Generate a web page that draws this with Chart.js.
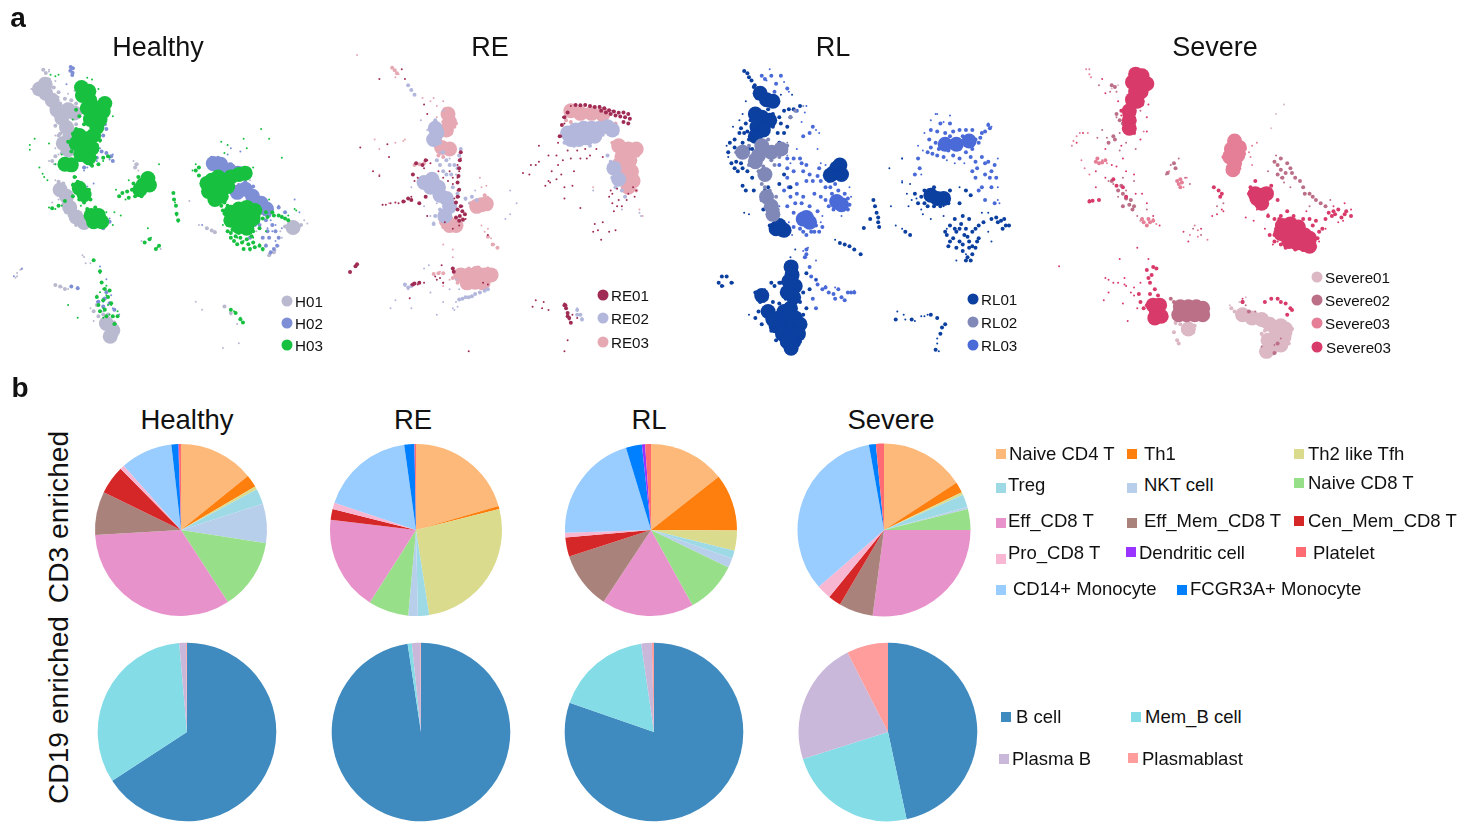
<!DOCTYPE html>
<html>
<head>
<meta charset="utf-8">
<script src="https://cdn.jsdelivr.net/npm/chart.js@4"></script>
<style>
  html, body { margin: 0; padding: 0; background: #fff; }
  body { position: relative; width: 1465px; height: 823px; overflow: hidden; font-family: "Liberation Sans", Arial, sans-serif; color: #111; }
  canvas { position: absolute; }
  .t { position: absolute; white-space: nowrap; transform: translateY(-50%); }
  .c { transform: translate(-50%, -50%); }
  .r { transform: translate(-50%, -50%) rotate(-90deg); }
  .sw { position: absolute; width: 10px; height: 10px; transform: translate(-50%, -50%); }
  .dot { position: absolute; width: 11px; height: 11px; border-radius: 50%; transform: translate(-50%, -50%); }
</style>
</head>
<body>
<script>
// ── PIE DATA (percent) ───────────────────────────────────────────────────────
const tCells = ['Naive CD4 T', 'Th1', 'Th2 like Tfh', 'Treg', 'NKT cell', 'Naive CD8 T', 'Eff_CD8 T', 'Eff_Mem_CD8 T', 'Cen_Mem_CD8 T', 'Pro_CD8 T', 'CD14+ Monocyte', 'FCGR3A+ Monocyte', 'Dendritic cell', 'Platelet'];
const tColors = ['#fdb97a', '#ff7f0e', '#dbdb8d', '#9edae5', '#b8cfec', '#98df8a', '#e892cb', '#a9827b', '#d62728', '#f7b6d2', '#99ccff', '#0080ff', '#9933ff', '#ff6b73'];
const cd3Healthy = [14.2, 2.4, 0.6, 2.9, 7.4, 13.4, 33.3, 8.2, 5.4, 0.8, 9.8, 1.3, 0.1, 0.4];
const cd3RE      = [20.5, 0.6, 26.5, 2.1, 1.8, 7.6, 17.9, 0, 2.0, 1.2, 17.7, 1.9, 0.05, 0.25];
const cd3RL      = [14.4, 10.7, 3.8, 1.5, 1.8, 9.8, 17.3, 10.7, 3.6, 0.9, 20.8, 3.0, 0.6, 1.1];
const cd3Severe  = [15.8, 2.0, 0.5, 2.4, 0.4, 3.9, 27.1, 6.4, 2.4, 2.7, 33.6, 1.3, 0, 1.5];

const bCells = ['B cell', 'Mem_B cell', 'Plasma B', 'Plasmablast'];
const bColors = ['#3f8abf', '#84dce6', '#c9b8da', '#ff9c9c'];
const cd19Healthy = [65.8, 32.8, 1.25, 0.15];
const cd19RE      = [97.6, 0.75, 1.55, 0.1];
const cd19RL      = [80.3, 17.4, 1.9, 0.4];
const cd19Severe  = [46.7, 23.5, 22.4, 7.5];

// ── UMAP DATA ([umap1, umap2] pairs: dense cores, textured mids, loose specks) ─
const h01Core = [[100,255],[118,240],[120,268],[140,290],[155,320],[170,345],[185,375],[195,405],[210,330],[190,320],[175,425],[190,445],[165,570],[185,590],[195,625],[215,655],[240,672],[322,1028],[330,1010],[310,988],[895,688]];
const h01Mid = [[120,205],[112,195],[130,225],[145,250],[160,265],[180,285],[200,290],[215,300],[165,300],[215,365],[205,385],[160,400],[150,370],[165,395],[170,455],[150,465],[140,480],[210,450],[225,470],[160,545],[175,550],[155,580],[175,615],[200,600],[195,650],[185,640],[215,680],[270,950],[285,965],[300,960],[295,985],[280,930],[315,960],[335,985],[150,868],[165,872],[180,880],[400,500],[405,490],[870,685],[880,695],[910,695],[920,680],[835,765],[820,775],[625,690],[640,697],[650,703],[680,935],[700,955]];
const h01Speck = [[130,200],[150,230],[210,260],[190,270],[240,340],[170,420],[150,440],[160,460],[200,390],[210,440],[150,540],[165,560],[140,610],[180,640],[400,490],[410,510],[395,480],[570,605],[600,680],[640,695],[650,700],[30,840],[40,820],[150,870],[170,875],[190,880],[240,780],[260,800],[280,900],[300,950],[270,980],[260,940],[680,935],[700,960],[720,990],[880,680],[930,665],[860,650],[840,760],[820,770],[860,720],[420,730],[480,755],[215,300],[160,280],[185,300],[140,250],[205,350],[150,400],[130,480],[145,490],[200,600],[160,600],[230,640],[190,575],[760,540],[780,700],[810,740],[590,920],[610,945],[675,1065],[725,1050],[30,830],[25,845],[45,815],[235,775],[245,800],[130,195],[75,255],[85,270],[940,675],[855,700],[850,745]];
const h02Core = [[645,488],[668,490],[695,508],[722,518],[720,578],[745,568],[768,590],[795,612],[812,630]];
const h02Mid = [[198,186],[205,190],[197,198],[204,204],[203,211],[310,380],[305,365],[300,400],[310,455],[325,465],[330,480],[295,450],[280,470],[260,490],[240,500],[190,505],[175,500],[800,635],[820,650],[830,680],[815,700],[840,700],[790,680],[800,720],[810,745],[825,765],[770,560],[745,545],[725,555],[710,585],[870,640],[850,625],[300,690],[320,670],[305,910],[320,925],[335,945],[300,935],[285,920],[310,890],[200,872],[220,878],[640,470],[660,470],[680,480],[700,490],[770,620],[785,650],[810,665],[775,680],[760,720],[820,720],[850,720],[845,745],[835,755]];
const h02Speck = [[185,240],[310,380],[330,460],[290,440],[250,500],[180,505],[300,690],[320,660],[200,870],[220,875],[310,850],[330,940],[300,910],[280,920],[610,680],[690,460],[700,440],[730,450],[850,620],[900,600],[915,640],[800,720],[830,700],[760,700],[780,610],[860,690],[240,510],[270,550],[250,560],[300,470],[280,480],[320,475],[300,920],[325,900],[305,940],[815,690],[840,680],[825,665],[810,650],[790,690],[840,730],[825,770],[150,490],[190,495],[295,380],[305,360],[20,840],[45,818],[350,960],[290,810]];
const h03Core = [[232,250],[255,262],[235,275],[258,290],[275,315],[250,315],[305,300],[300,325],[290,350],[280,375],[270,400],[260,350],[225,400],[250,410],[215,425],[240,435],[265,440],[230,460],[255,470],[180,490],[200,492],[225,565],[240,585],[285,650],[270,670],[295,670],[262,650],[440,535],[445,555],[425,555],[415,570],[625,550],[640,540],[660,530],[680,540],[700,530],[725,522],[745,518],[630,575],[650,575],[670,565],[690,560],[650,600],[670,590],[700,640],[725,630],[750,625],[775,635],[720,660],[745,655],[770,660],[700,665],[725,685],[750,690]];
const h03Mid = [[215,380],[240,365],[225,340],[215,320],[205,395],[190,420],[200,450],[280,430],[290,415],[275,470],[285,490],[265,495],[300,470],[315,465],[210,530],[220,545],[205,555],[235,555],[255,570],[260,600],[240,610],[225,600],[205,590],[180,605],[160,620],[140,628],[250,630],[275,625],[390,570],[375,575],[360,580],[350,590],[395,550],[410,530],[420,590],[400,590],[380,595],[520,580],[522,600],[528,620],[530,645],[535,665],[430,735],[445,725],[465,755],[475,745],[600,500],[590,510],[600,525],[680,610],[690,620],[670,620],[680,645],[690,680],[705,695],[715,715],[730,720],[750,725],[770,700],[790,690],[800,660],[810,640],[830,640],[850,650],[870,660],[880,665],[690,700],[700,720],[720,740],[740,755],[760,755],[790,745],[800,755],[770,735],[270,790],[290,825],[295,860],[305,880],[315,905],[325,925],[345,965],[335,990],[310,965],[305,945],[290,950],[700,945],[715,955],[730,975],[738,985],[700,705],[725,705],[745,705],[765,715],[735,735],[755,740],[775,750],[710,730],[690,665],[675,635],[785,670],[770,680],[815,655],[835,650],[860,655],[285,930],[300,915],[320,885],[330,965],[280,905]];
const h03Speck = [[70,430],[85,410],[130,425],[110,520],[115,530],[150,215],[265,225],[285,255],[250,220],[330,340],[300,480],[320,470],[215,530],[205,550],[130,625],[150,630],[170,620],[340,570],[350,590],[370,600],[380,540],[475,490],[520,580],[525,610],[530,650],[535,670],[430,735],[450,720],[470,750],[590,490],[580,510],[600,525],[690,430],[750,440],[740,410],[795,380],[770,500],[820,600],[870,660],[880,650],[900,630],[700,720],[720,740],[760,760],[790,740],[800,760],[270,790],[290,830],[300,880],[310,900],[320,960],[340,990],[345,950],[300,970],[710,950],[730,970],[735,985],[280,640],[230,620],[150,490],[190,480],[200,440],[225,480],[250,490],[275,470],[290,420],[205,350],[190,420],[170,460],[720,720],[740,730],[690,700],[675,680],[770,720],[810,700],[830,640],[850,650],[315,930],[300,940],[325,930],[290,890],[310,870],[160,210],[135,210],[70,445],[100,500],[125,540],[310,640],[335,640],[355,650],[330,680],[440,690],[670,420],[680,455],[820,410],[905,635],[860,470],[220,970],[190,930]];

const re01Mid = [[715,212],[730,213],[745,212],[760,215],[775,218],[790,218],[805,222],[820,228],[835,232],[850,236],[865,235],[880,240],[885,255],[870,250],[855,248],[840,245],[825,240],[810,235],[795,230],[880,270],[865,265],[355,360],[352,385],[350,410],[348,435],[345,455],[350,478],[345,500],[340,518],[355,530],[345,540],[360,545],[352,560],[368,555],[362,572],[350,575],[340,565],[245,385],[235,400],[215,395],[205,430],[190,505],[175,515],[200,510],[225,520],[245,500],[225,770],[205,775],[210,772],[330,725],[333,735],[680,840],[685,850],[690,865],[695,880],[700,895],[690,875],[683,840],[25,718],[8,736],[30,712],[680,250],[672,275],[665,310],[690,235]];
const re01Speck = [[180,130],[170,100],[100,130],[240,210],[250,240],[40,345],[130,375],[125,335],[80,420],[100,435],[250,385],[260,395],[220,440],[210,450],[200,500],[180,515],[110,525],[160,520],[320,420],[330,460],[345,480],[350,590],[330,600],[30,715],[8,735],[25,720],[220,775],[200,775],[240,770],[195,818],[330,725],[300,770],[280,760],[440,620],[380,985],[550,425],[575,400],[570,430],[600,340],[630,370],[630,450],[620,465],[660,400],[670,430],[680,470],[700,380],[710,420],[730,380],[760,370],[680,505],[730,535],[770,610],[800,580],[840,605],[795,635],[820,500],[830,520],[850,510],[880,490],[905,480],[900,500],[860,530],[680,270],[670,310],[660,330],[590,825],[615,830],[580,845],[610,850],[630,855],[680,840],[690,870],[700,895],[720,880],[690,950],[680,985],[345,400],[350,420],[345,440],[350,500],[340,520],[355,380],[345,540],[360,530],[370,570],[680,835],[685,850],[695,885],[705,870],[700,215],[715,212],[745,210],[790,215],[830,230],[880,270],[675,250],[690,235],[240,410],[215,395],[245,500],[250,560],[655,370],[675,385],[690,355],[720,355],[745,350],[780,350],[640,420],[655,445],[705,465],[825,480],[845,475],[875,510],[895,470],[835,545],[845,530],[830,490],[785,605],[775,585],[820,610],[590,400],[600,390],[635,455],[750,380],[800,375],[120,525],[135,520],[150,518],[305,580],[330,440],[315,450],[300,440],[285,420],[335,505],[300,770],[290,755],[425,770],[440,775],[295,715],[275,750]];
const re02Core = [[690,300],[715,290],[740,285],[765,285],[790,285],[815,280],[700,320],[725,320],[750,315],[775,310],[830,290],[280,300],[270,320],[275,285],[240,455],[265,445],[260,470],[285,470],[290,495],[310,505],[320,530],[305,560],[835,410],[850,445]];
const re02Mid = [[370,815],[380,815],[390,812],[400,805],[415,800],[430,795],[440,790],[360,820],[350,822],[300,360],[310,385],[320,400],[335,400],[345,410],[325,430],[310,430],[300,420],[290,400],[280,385],[275,260],[265,290],[260,310],[290,330],[350,370],[355,350],[330,470],[345,490],[370,505],[390,500],[405,510],[290,540],[290,570],[275,560],[270,585],[825,390],[815,370],[830,440],[840,470],[860,480],[870,500],[190,150],[200,165],[210,180],[180,775],[190,785],[200,780],[720,855],[730,870],[735,885],[720,870],[845,300],[800,305],[760,340],[710,340],[680,330]];
const re02Speck = [[190,150],[210,180],[230,260],[300,230],[250,290],[350,370],[200,510],[180,780],[190,790],[330,850],[340,830],[300,830],[280,870],[510,480],[510,555],[530,520],[495,570],[380,520],[400,480],[390,500],[770,480],[720,870],[735,880],[860,540],[915,550],[920,560],[720,850],[200,470],[240,530],[270,580],[290,360],[320,380],[300,420],[340,430],[350,480],[260,560],[280,520],[340,760],[350,790],[320,790],[350,500],[370,510],[335,855],[345,845],[150,825],[135,850],[200,850],[260,800],[240,725],[255,715]];
const re03Core = [[315,240],[320,265],[310,290],[295,345],[320,350],[420,525],[435,522],[405,530],[320,590],[340,590],[310,575],[355,745],[380,745],[405,740],[430,745],[450,745],[375,770],[400,768],[425,770],[700,230],[730,238],[765,238],[800,242],[850,340],[880,350],[905,350],[860,375],[885,385],[865,410],[890,420],[870,440],[895,450],[880,470],[850,400]];
const re03Mid = [[140,95],[148,103],[155,112],[210,400],[225,398],[240,395],[285,370],[300,375],[275,340],[290,320],[330,240],[335,280],[340,270],[325,300],[300,265],[305,225],[340,590],[300,595],[360,570],[300,740],[285,740],[270,742],[330,755],[345,770],[380,725],[410,722],[440,725],[685,260],[700,265],[820,265],[840,270],[830,330],[915,340],[910,370],[905,430],[905,480],[855,455],[385,520],[395,540],[445,510],[430,495],[470,660],[455,650],[440,625]];
const re03Speck = [[270,190],[300,200],[280,215],[150,330],[180,320],[100,350],[440,600],[430,610],[470,660],[460,650],[420,470],[440,500],[300,650],[330,690],[270,740],[290,735],[430,780],[30,55],[150,125],[160,115],[110,525],[130,520],[450,630],[420,590],[280,250],[260,200],[235,190],[300,780],[320,760],[100,430],[85,320],[175,325],[435,465],[415,440],[770,470],[915,540],[925,560],[330,665]];

const rl01Core = [[165,175],[185,195],[205,200],[150,240],[170,250],[195,260],[155,280],[175,290],[150,310],[215,600],[240,605],[225,590],[405,410],[395,425],[415,400],[420,430],[385,432],[262,720],[265,745],[255,765],[275,780],[250,800],[270,815],[240,860],[260,850],[225,880],[250,880],[275,880],[215,905],[240,905],[265,905],[290,900],[235,930],[260,930],[285,930],[250,955],[270,955],[262,975],[720,505],[740,505],[700,495],[190,860],[170,810],[205,885]];
const rl01Mid = [[115,105],[125,112],[130,125],[138,135],[148,150],[155,160],[100,300],[85,320],[110,330],[130,320],[120,370],[95,420],[125,420],[140,440],[190,470],[175,540],[200,570],[240,230],[230,270],[260,250],[220,300],[215,210],[190,225],[155,190],[145,155],[240,430],[225,460],[260,470],[520,510],[525,530],[530,550],[535,565],[535,580],[538,595],[510,570],[430,650],[445,655],[460,665],[480,680],[415,645],[620,610],[635,620],[490,598],[45,750],[35,770],[45,780],[60,750],[75,770],[150,800],[165,815],[185,820],[205,830],[165,830],[210,780],[225,770],[300,800],[320,790],[310,740],[150,880],[170,900],[290,830],[300,870],[310,850],[300,930],[200,920],[215,950],[290,955],[650,490],[670,500],[690,530],[710,470],[760,480],[790,520],[760,590],[790,600],[820,570],[850,590],[890,570],[910,580],[920,575],[935,590],[945,590],[925,600],[760,640],[790,640],[820,640],[850,630],[830,680],[810,700],[840,660],[780,660],[750,620],[810,480],[825,495],[700,870],[720,880],[735,910],[730,930],[745,900],[715,980],[590,885],[640,885],[70,330],[65,360],[75,395],[85,410],[110,465],[120,480],[145,480],[170,510],[180,480],[120,270],[135,260],[115,300],[205,280],[240,300],[250,280],[105,285],[200,600],[230,620],[195,590],[250,600],[200,770],[235,800],[225,835],[200,855],[180,870],[160,860],[230,770],[245,820],[275,820],[680,480],[660,520],[710,530],[730,530],[755,520],[680,520],[800,560],[775,570],[780,610],[805,620],[830,610],[770,630],[800,670],[820,660],[775,600],[795,585],[810,600],[840,600],[865,580],[905,565],[930,570],[745,610],[800,650],[815,625],[755,655],[830,655],[845,640],[825,700],[815,690],[100,350],[85,345],[90,390],[105,395],[110,410],[140,350],[130,350],[225,330],[145,290],[125,295],[255,225],[270,225],[290,215],[205,240],[225,250]];
const rl01Speck = [[60,340],[65,375],[100,260],[120,200],[230,180],[265,180],[635,460],[610,455],[640,510],[630,530],[670,540],[700,570],[740,530],[790,470],[860,550],[880,610],[890,640],[780,700],[810,680],[570,410],[575,530],[590,590],[610,380],[400,635],[610,600],[615,870],[650,890],[690,870],[680,875],[720,945],[130,870],[180,790],[340,760],[260,690],[275,665],[50,780],[80,770],[655,505],[625,490],[675,555],[740,560],[750,600],[880,550],[720,960],[725,985],[595,860],[620,885],[670,875],[200,240],[80,280],[110,240],[95,370],[130,555],[115,550]];
const rl02Core = [[110,360],[160,370],[200,360],[230,350],[170,340],[150,390],[180,430],[185,500],[200,530],[205,555]];
const rl02Mid = [[90,360],[130,340],[135,375],[250,340],[245,360],[190,320],[130,400],[210,400],[160,420],[170,460],[215,500],[220,540],[260,250],[275,230],[170,510],[140,370],[175,405],[200,385],[225,375],[105,375],[195,480],[180,470],[215,565]];
const rl02Speck = [[90,360],[130,340],[250,330],[250,370],[190,320],[130,400],[210,400],[160,420],[170,460],[215,500],[220,540],[260,250],[300,215],[170,510],[140,370]];
const rl03Core = [[310,565],[320,580],[300,570],[405,515],[420,525],[745,335],[780,335],[820,325]];
const rl03Mid = [[170,120],[200,120],[210,170],[250,160],[280,230],[300,310],[320,300],[330,280],[240,350],[290,380],[270,420],[310,400],[350,410],[330,450],[370,470],[390,490],[430,490],[440,540],[380,530],[280,490],[250,530],[270,550],[290,600],[340,590],[350,610],[310,620],[700,290],[730,270],[760,270],[790,290],[830,290],[860,300],[880,275],[690,360],[720,370],[770,370],[810,360],[850,330],[840,390],[880,390],[900,400],[830,420],[850,480],[890,470],[870,510],[900,520],[660,380],[650,430],[310,680],[320,720],[340,760],[360,790],[380,800],[400,820],[450,800],[330,820],[340,850],[300,420],[280,460],[310,450],[250,440],[260,500],[295,520],[320,530],[345,545],[285,570],[335,610],[240,480],[380,450],[400,460],[430,510],[395,540],[370,510],[695,320],[715,330],[725,350],[755,355],[790,350],[840,320],[855,315],[870,295],[885,285],[760,310],[800,310],[830,350],[815,340],[700,345],[860,375],[870,395],[890,420],[870,430],[840,440],[860,470],[885,440],[845,410],[905,440],[305,690],[310,665],[325,750],[345,775],[370,785],[395,805],[420,815],[440,800],[430,825],[410,790],[460,800],[230,120],[215,145],[180,130],[270,380],[295,395],[320,430],[345,435],[275,520],[300,500],[335,490],[355,500],[255,470],[270,595],[300,610],[325,610],[360,595],[355,450],[385,470],[410,480],[440,505],[445,525],[390,510],[720,295],[745,300],[770,295],[810,290],[705,365],[740,375],[790,380],[825,375],[665,410],[250,380],[225,400],[250,410]];
const rl03Speck = [[195,100],[185,135],[240,140],[255,170],[310,215],[340,290],[350,300],[370,400],[445,470],[450,500],[420,560],[355,580],[265,620],[720,240],[760,245],[740,265],[660,340],[610,380],[670,430],[910,380],[915,520],[880,270],[890,280],[610,450],[300,670],[315,660],[310,690],[370,780],[460,795],[400,785],[340,700],[295,265],[305,235],[345,350],[355,395],[280,350],[260,395],[225,530],[255,580],[360,560],[680,300],[675,355],[700,260],[715,240],[775,395],[750,385],[805,395],[910,470],[910,510]];

const s01Core = [[685,950],[710,940],[715,915],[670,975],[655,985],[690,925],[660,950],[700,965],[580,870],[610,880],[640,885],[665,900],[700,905],[410,915]];
const s01Mid = [[545,850],[555,860],[565,865],[595,880],[575,885],[625,895],[645,905],[670,925],[640,930],[650,920],[375,950],[380,960],[365,925],[385,900],[395,910],[425,925],[430,905],[370,895],[730,930],[735,915],[725,960]];
const s01Speck = [[375,950],[380,960],[365,925],[420,925],[190,150],[170,160],[685,240],[670,285],[710,210],[570,830],[590,815],[640,935],[640,975],[370,900],[430,905],[540,840]];
const s02Core = [[385,845],[410,845],[435,845],[455,850],[380,870],[405,870],[430,870],[455,870]];
const s02Mid = [[180,155],[170,150],[210,240],[205,270],[180,320],[170,450],[205,490],[225,525],[235,540],[205,530],[370,410],[345,425],[680,390],[690,400],[700,415],[715,425],[730,410],[745,440],[690,430],[705,440],[770,470],[790,490],[810,510],[840,530],[580,830],[600,860],[690,960],[680,990],[365,830],[355,820],[200,465],[215,505],[190,480],[230,510],[240,530],[185,240],[195,260],[175,310],[160,330],[365,395],[700,380],[720,395],[735,425],[760,450],[775,490],[800,500],[825,520]];
const s02Speck = [[130,150],[125,315],[155,315],[245,350],[260,230],[185,250],[195,300],[140,290],[280,540],[250,560],[205,440],[240,450],[380,380],[355,400],[400,440],[415,460],[730,470],[700,440],[660,420],[790,530],[855,510],[425,600],[450,620],[500,530],[520,520],[590,840],[620,860],[340,430],[160,450],[175,460],[190,500],[215,480],[165,170],[185,170],[215,330],[195,355],[685,370],[710,455],[640,970],[680,965],[700,945]];
const s03Core = [[555,325],[570,345],[545,350],[565,370],[540,375],[555,395],[550,415]];
const s03Mid = [[555,310],[585,340],[585,365],[525,365],[520,375],[535,405],[570,410],[120,390],[130,395],[140,392],[150,385],[125,380],[270,580],[280,590],[290,580],[285,570],[265,570],[300,575],[380,460],[385,470],[375,450],[390,455],[385,445]];
const s03Speck = [[100,100],[105,125],[95,300],[60,310],[45,340],[75,385],[100,430],[110,510],[140,385],[155,395],[300,570],[260,575],[310,585],[350,420],[395,470],[405,440],[600,360],[610,340],[610,400],[440,625],[470,635],[430,590],[415,620],[625,330],[270,295],[90,100],[100,115],[70,300],[50,325],[85,410],[590,350],[605,375],[440,605]];
const s04Core = [[245,115],[265,120],[280,145],[255,145],[235,140],[245,170],[262,170],[235,195],[250,200],[225,230],[225,260],[225,285],[640,495],[625,505],[655,490],[640,520],[620,490],[705,590],[730,585],[755,595],[700,615],[725,615],[750,620],[775,620],[790,630],[725,640],[750,645],[775,650],[790,655],[310,860],[320,840],[300,840],[325,875],[305,880]];
const s04Mid = [[210,245],[200,230],[240,240],[265,210],[175,445],[185,465],[205,470],[215,500],[130,510],[100,515],[110,512],[295,745],[290,770],[305,790],[280,730],[315,810],[300,720],[285,755],[310,725],[280,840],[260,830],[270,850],[255,805],[290,805],[660,560],[680,570],[700,560],[720,545],[680,620],[800,590],[830,600],[850,550],[880,540],[900,555],[920,560],[605,470],[620,450],[670,465],[580,830],[650,830],[670,820],[690,820],[700,830],[715,835],[730,850],[720,870],[735,855],[505,480],[510,500],[490,470],[515,490],[680,640],[665,620],[820,610],[805,660],[695,570],[740,560],[770,570],[790,570],[860,560],[840,570],[600,490],[690,510],[210,275],[240,300],[700,650],[715,660],[745,665],[770,665],[805,640],[815,630],[690,590],[685,600],[810,575],[870,555],[890,565],[905,545],[865,545]];
const s04Speck = [[140,130],[150,175],[190,200],[285,210],[280,250],[280,295],[260,320],[200,340],[150,350],[80,300],[60,330],[205,380],[215,420],[240,430],[120,470],[150,440],[280,520],[300,560],[320,590],[395,610],[410,640],[500,555],[515,540],[485,560],[590,565],[615,575],[650,600],[675,650],[690,640],[770,670],[820,640],[840,600],[900,520],[920,540],[150,755],[175,770],[210,755],[215,780],[145,825],[160,800],[205,835],[240,810],[220,890],[285,695],[260,770],[250,660],[5,718],[195,695],[580,820],[660,555],[625,540],[780,545],[800,640],[865,530],[880,580],[895,575],[160,760],[190,770],[210,775],[230,800],[250,850],[240,785],[200,245],[170,400],[185,405],[120,420],[100,510],[245,490],[265,490],[450,600],[520,545]];

// ── PAGE LAYOUT ──────────────────────────────────────────────────────────────
const panelLetters = [['a', 18, 18], ['b', 20, 388]];
const umapTitles = [['Healthy', 158, 47], ['RE', 490, 47], ['RL', 833, 47], ['Severe', 1215, 47]];
const pieTitles = [['Healthy', 187, 420], ['RE', 413, 420], ['RL', 649, 420], ['Severe', 891, 420]];
const rowTitles = [['CD3 enriched', 58, 517], ['CD19 enriched', 58, 710]];

const sampleLegend = [
  ['H01', '#b9b9cf', 287, 301, 295], ['H02', '#7f8fd6', 287, 323, 295], ['H03', '#18c040', 287, 345, 295],
  ['RE01', '#a02c55', 603, 295, 611], ['RE02', '#b3b7dc', 603, 318, 611], ['RE03', '#e6a9b4', 603, 342, 611],
  ['RL01', '#0b3fa0', 973, 299, 981], ['RL02', '#8088b8', 973, 322, 981], ['RL03', '#4a6ad8', 973, 345, 981],
  ['Severe01', '#dcb8c4', 1317, 277, 1325], ['Severe02', '#bc7088', 1317, 300, 1325], ['Severe03', '#e57f97', 1317, 323, 1325], ['Severe03', '#d83a6a', 1317, 347, 1326],
];
// label, colour, swatch x, swatch y, text x, text y
const cellLegend = [
  ['Naive CD4 T', '#fdb97a', 1001, 454, 1009, 454], ['Th1', '#ff7f0e', 1132, 454, 1144, 454], ['Th2 like Tfh', '#dbdb8d', 1299, 454, 1308, 454],
  ['Treg', '#9edae5', 1001, 488, 1008, 485], ['NKT cell', '#b8cfec', 1132, 488, 1144, 485], ['Naive CD8 T', '#98df8a', 1299, 483, 1308, 483],
  ['Eff_CD8 T', '#e892cb', 1001, 523, 1008, 521], ['Eff_Mem_CD8 T', '#a9827b', 1132, 523, 1144, 521], ['Cen_Mem_CD8 T', '#d62728', 1299, 521, 1308, 521],
  ['Pro_CD8 T', '#f7b6d2', 1001, 559, 1008, 553], ['Dendritic cell', '#9933ff', 1131, 552, 1139, 553], ['Platelet', '#ff6b73', 1301, 552, 1313, 553],
  ['CD14+ Monocyte', '#99ccff', 1001, 590, 1013, 589], ['FCGR3A+ Monocyte', '#0080ff', 1182, 590, 1190, 589],
  ['B cell', '#3f8abf', 1006, 717, 1016, 717], ['Mem_B cell', '#84dce6', 1136, 717, 1145, 717],
  ['Plasma B', '#c9b8da', 1004, 759, 1012, 759], ['Plasmablast', '#ff9c9c', 1133, 758, 1142, 759],
];

// ── HELPERS ──────────────────────────────────────────────────────────────────
function addText(txt, x, y, size, cls, bold) {
  const el = document.createElement('div');
  el.className = cls;
  el.textContent = txt;
  el.style.left = x + 'px';
  el.style.top = y + 'px';
  el.style.fontSize = size + 'px';
  if (bold) el.style.fontWeight = 'bold';
  document.body.appendChild(el);
}
function addMark(cls, color, x, y) {
  const el = document.createElement('div');
  el.className = cls;
  el.style.background = color;
  el.style.left = x + 'px';
  el.style.top = y + 'px';
  document.body.appendChild(el);
}
function makeCanvas(left, top, w, h) {
  const cv = document.createElement('canvas');
  cv.width = w; cv.height = h;
  cv.style.left = left + 'px';
  cv.style.top = top + 'px';
  document.body.appendChild(cv);
  return cv;
}

const RAD_CORE = 7.5, RAD_MID = 2, RAD_SPECK = 1;
const layer = (pts, color, radius) => ({
  data: pts.map(p => ({ x: p[0], y: p[1] })),
  backgroundColor: color, borderWidth: 0, pointRadius: radius, pointHoverRadius: radius,
});
const sample = (core, mid, speck, color) => [layer(speck, color, RAD_SPECK), layer(mid, color, RAD_MID), layer(core, color, RAD_CORE)];

function drawUmap(left, top, w, h, datasets) {
  new Chart(makeCanvas(left, top, w, h), {
    type: 'scatter',
    data: { datasets },
    options: {
      responsive: false, animation: false, devicePixelRatio: 1,
      layout: { padding: 0 },
      plugins: { legend: { display: false }, tooltip: { enabled: false } },
      scales: {
        x: { display: false, min: 0, max: w * 3 },
        y: { display: false, min: 0, max: h * 3, reverse: true },
      },
    },
  });
}

function drawPie(cx, cy, r, labels, colors, values) {
  const box = Math.ceil(r) * 2 + 4;
  new Chart(makeCanvas(cx - box / 2, cy - box / 2, box, box), {
    type: 'pie',
    data: { labels, datasets: [{ data: values, backgroundColor: colors, borderWidth: 0, radius: r }] },
    options: {
      responsive: false, animation: false, devicePixelRatio: 1,
      layout: { padding: 0 },
      plugins: { legend: { display: false }, tooltip: { enabled: false } },
    },
  });
}

// ── RENDER ───────────────────────────────────────────────────────────────────
// first dataset in the list ends up on top
drawUmap(0, 0, 350, 370, [
  ...sample(h03Core, h03Mid, h03Speck, '#18c040'),
  ...sample(h02Core, h02Mid, h02Speck, '#7f8fd6'),
  ...sample(h01Core, h01Mid, h01Speck, '#b9b9cf'),
]);
drawUmap(340, 30, 350, 340, [
  ...sample([], re01Mid, re01Speck, '#a02c55'),
  ...sample(re02Core, re02Mid, re02Speck, '#b3b7dc'),
  ...sample(re03Core, re03Mid, re03Speck, '#e6a9b4'),
]);
drawUmap(700, 30, 350, 340, [
  ...sample(rl02Core, rl02Mid, rl02Speck, '#8088b8'),
  ...sample(rl01Core, rl01Mid, rl01Speck, '#0b3fa0'),
  ...sample(rl03Core, rl03Mid, rl03Speck, '#4a6ad8'),
]);
drawUmap(1050, 30, 350, 340, [
  ...sample(s04Core, s04Mid, s04Speck, '#d83a6a'),
  ...sample(s03Core, s03Mid, s03Speck, '#e57f97'),
  ...sample(s02Core, s02Mid, s02Speck, '#bc7088'),
  ...sample(s01Core, s01Mid, s01Speck, '#dcb8c4'),
]);

drawPie(180.7, 530, 86, tCells, tColors, cd3Healthy);
drawPie(415.7, 530, 86, tCells, tColors, cd3RE);
drawPie(650.7, 530, 86, tCells, tColors, cd3RL);
drawPie(884, 530, 86.5, tCells, tColors, cd3Severe);
drawPie(187, 731.7, 89.3, bCells, bColors, cd19Healthy);
drawPie(421.4, 731.7, 89.3, bCells, bColors, cd19RE);
drawPie(654.2, 731.7, 89.3, bCells, bColors, cd19RL);
drawPie(888.3, 731.7, 89.3, bCells, bColors, cd19Severe);

panelLetters.forEach(([s, x, y]) => addText(s, x, y, 28, 't c', true));
umapTitles.forEach(([s, x, y]) => addText(s, x, y, 27, 't c'));
pieTitles.forEach(([s, x, y]) => addText(s, x, y, 27.5, 't c'));
rowTitles.forEach(([s, x, y]) => addText(s, x, y, 28.2, 't r'));
sampleLegend.forEach(([s, col, dx, dy, tx]) => { addMark('dot', col, dx, dy); addText(s, tx, dy, 15.2, 't'); });
cellLegend.forEach(([s, col, sx, sy, tx, ty]) => { addMark('sw', col, sx, sy); addText(s, tx, ty, 18.5, 't'); });
</script>
</body>
</html>
